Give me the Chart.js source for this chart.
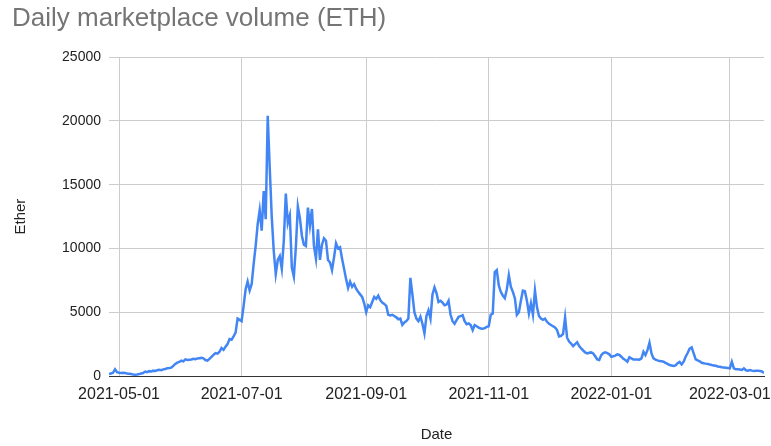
<!DOCTYPE html>
<html>
<head>
  <title>Daily marketplace volume</title>
  <style>
    body { margin: 0; background: #fff; }
    #chart { display: block; }
  </style>
</head>
<body>
  <canvas id="chart" width="771" height="446"></canvas>
  <script src="https://cdn.jsdelivr.net/npm/chart.js"></script>
  <script>
    // first day of the series, one value per day after it
    const startDate = '2021-04-26';
    const tickDates = ['2021-05-01', '2021-07-01', '2021-09-01', '2021-11-01', '2022-01-01', '2022-03-01'];
    const volume = [
      150, 200, 250, 520, 300, 250, 230, 260, 240, 200,
      180, 150, 120, 100, 120, 150, 200, 230, 350, 300,
      380, 350, 420, 400, 450, 480, 460, 520, 550, 600,
      620, 650, 800, 950, 1050, 1100, 1200, 1150, 1300, 1250,
      1280, 1300, 1350, 1320, 1380, 1400, 1420, 1380, 1250, 1200,
      1350, 1500, 1650, 1800, 1750, 1900, 2200, 2050, 2300, 2500,
      2900, 2850, 3100, 3400, 4500, 4400, 4300, 5500, 6800, 7400,
      6700, 7200, 8800, 10200, 11900, 13000, 11400, 14500, 12300, 20400,
      16300, 12500, 9800, 8000, 9100, 9400, 8400, 10600, 14300, 12000,
      12600, 8500, 7800, 10100, 13300, 12400, 11000, 10300, 10200, 13200,
      11800, 13100, 10200, 9200, 11500, 9100, 10300, 10800, 10600, 9100,
      8900, 8300, 9300, 10400, 10000, 10100, 9200, 8400, 7600, 6900,
      7400, 7000, 7200, 6850, 6600, 6400, 6200, 5700, 5000, 5550,
      5400, 5800, 6200, 6050, 6300, 5950, 5750, 5650, 5500, 4800,
      4750, 4800, 4700, 4600, 4450, 4500, 4000, 4200, 4300, 4500,
      7700, 6400, 5000, 4500, 4300, 4650, 4100, 3350, 4700, 5150,
      4500, 6400, 6950, 6500, 5800, 5900, 5750, 5550, 5600, 5900,
      4800, 4300, 4100, 4380, 4640, 4700, 4770, 4300, 4060, 4120,
      3990, 3600, 3990, 3900, 3800, 3720, 3700, 3750, 3850, 3900,
      4800, 4900, 8150, 8300, 7100, 6600, 6300, 6100, 6800, 7900,
      7000, 6600, 6100, 4800, 5000, 5900, 6700, 6650, 5900, 4900,
      5700, 4800, 6700, 5400, 4700, 4500, 4400, 4500, 4250, 4100,
      4000, 3900, 3800, 3600, 3100, 3150, 3300, 4600, 3000, 2700,
      2550, 2350, 2500, 2650, 2350, 2160, 2000, 1850, 1770, 1820,
      1850, 1770, 1550, 1300, 1250, 1640, 1800, 1850, 1800, 1700,
      1510, 1550, 1600, 1700, 1650, 1510, 1350, 1250, 1120, 1470,
      1380, 1300, 1300, 1300, 1280, 1380, 1900, 1640, 2030, 2600,
      1770, 1380, 1280, 1220, 1170, 1150, 1120, 1030, 950, 860,
      820, 780, 830, 1000, 1100, 900, 1120, 1510, 1800, 2150,
      2250, 1770, 1300, 1220, 1150, 1040, 1000, 970, 950, 900,
      860, 830, 800, 750, 720, 680, 660, 640, 620, 600,
      1120, 600, 520, 520, 510, 470, 600, 450, 420, 470,
      420, 390, 410, 420, 390, 360, 230
    ];

    const DAY = 86400000;
    const t0 = Date.parse(startDate + 'T00:00:00Z');
    const dayIndex = s => Math.round((Date.parse(s + 'T00:00:00Z') - t0) / DAY);
    const dateLabel = i => new Date(t0 + i * DAY).toISOString().slice(0, 10);
    const tickIdx = tickDates.map(dayIndex);

    const points = volume.map((v, i) => ({ x: i, y: v }));
    const FONT = '"Liberation Sans", Arial, sans-serif';
    const GRID = '#cccccc';

    new Chart(document.getElementById('chart'), {
      type: 'line',
      data: {
        datasets: [{
          label: 'Ether',
          data: points,
          borderColor: '#4285f4',
          borderWidth: 2.5,
          pointRadius: 0,
          tension: 0,
          fill: false
        }]
      },
      options: {
        responsive: false,
        animation: false,
        layout: { padding: { left: 12, right: 7, top: 0, bottom: 0 } },
        plugins: {
          legend: { display: false },
          tooltip: { enabled: false },
          title: {
            display: true,
            text: 'Daily marketplace volume (ETH)',
            align: 'start',
            color: '#757575',
            font: { family: FONT, size: 26, weight: 'normal' },
            padding: { top: 3, bottom: 23 }
          }
        },
        scales: {
          x: {
            type: 'linear',
            min: 0,
            max: volume.length - 1,
            afterBuildTicks: s => { s.ticks = tickIdx.map(v => ({ value: v })); },
            afterFit: s => {
              s.height = 70;
              // let the last date label run up to the edge
              s.paddingLeft = 0;
              s.paddingRight = 0;
            },
            grid: { color: GRID, drawTicks: false },
            border: { display: true, color: '#333333', width: 1 },
            ticks: {
              color: '#222222',
              padding: 9,
              maxRotation: 0,
              autoSkip: false,
              font: { family: FONT, size: 16 },
              callback: v => dateLabel(v)
            },
            title: {
              display: true,
              text: 'Date',
              color: '#222222',
              font: { family: FONT, size: 15 },
              padding: { top: 0, bottom: 2 }
            }
          },
          y: {
            min: 0,
            max: 25000,
            afterFit: s => { s.width = 97; },
            grid: { color: GRID, drawTicks: false },
            border: { display: false },
            ticks: {
              stepSize: 5000,
              color: '#222222',
              padding: 8,
              font: { family: FONT, size: 14 },
              callback: v => String(v)
            },
            title: {
              display: true,
              text: 'Ether',
              color: '#222222',
              font: { family: FONT, size: 15 },
              padding: { top: 0, bottom: 0 }
            }
          }
        }
      }
    });
  </script>
</body>
</html>
